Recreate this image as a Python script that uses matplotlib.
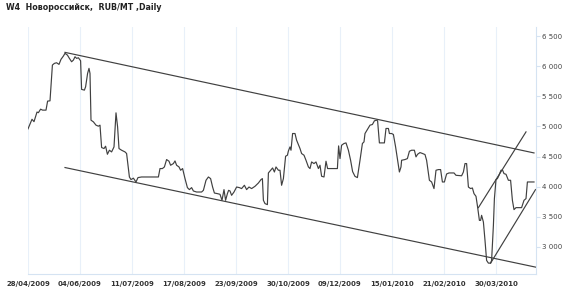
import numpy as np
import matplotlib
matplotlib.use("Agg")
import matplotlib.pyplot as plt
from matplotlib.ticker import FuncFormatter

# =============================================================================
# DATA: W4 Novorossiysk price, trading day index (0 = 28/04/2009)
# =============================================================================
day_idx = [0, 2, 3, 4.5, 5.2, 6.3, 7.3, 9, 9.8, 11, 12.2, 13.2, 14.3, 15.5, 16.5, 17.7,
           18.5, 19.7, 20.7, 21.8, 22.7, 23.5, 24.3, 25.2, 26.3, 26.8, 28.2, 28.8,
           29.8, 30.5, 31, 31.5, 32.7, 34, 35.2, 36, 36.8, 38, 38.8, 39.7, 40.7,
           41.8, 43, 44, 44.8, 45.5, 46.8, 48.5, 49.3, 50.7, 51.5, 52.7, 54, 55,
           56.8, 65.2, 66, 67.2, 68.2, 69.3, 70.5, 71.3, 72.7, 73.5, 74.3, 75.5,
           76.3, 77.3, 78.5, 79.7, 80.7, 81.8, 82.7, 84.3, 86.8, 87.7, 89, 90.2,
           91.3, 92.3, 93.2, 94.7, 96, 97, 98, 98.8, 99.7, 100.3, 101, 101.8, 103,
           104.3, 105.7, 106.8, 108.2, 109.3, 110.5, 111.8, 113.5, 115.2, 116.5,
           117.2, 117.7, 118.5, 119.7, 120.2, 121.3, 122.3, 123.2, 124, 125.2, 126,
           126.8, 127.7, 128.8, 129.7, 130.2, 131, 131.5, 132.3, 133.5, 134.3,
           135.2, 136, 136.8, 138, 139, 140.2, 141, 141.8, 143, 144, 145.2, 146,
           146.8, 148, 149, 149.8, 154.7, 155.3, 156, 156.8, 158, 159, 160.2,
           161.3, 162.3, 163.5, 164.7, 166, 167.2, 168, 168.5, 169.7, 171, 172.2,
           173.2, 174.3, 174.8, 175.7, 178.2, 179, 180.2, 180.7, 181.8, 182.7,
           183.8, 184.7, 185.7, 186.5, 186.8, 188.5, 189.7, 190.7, 191.8, 193.2,
           194, 194.8, 196, 197.3, 198.5, 199.3, 200.7, 201.8, 203, 204, 205.2,
           206.3, 207.2, 208.2, 209.3, 210.5, 213, 214, 216.8, 217.7, 218.5,
           219.3, 220.2, 221.3, 222.2, 223, 224, 224.8, 225.7, 226.3, 226.8, 227.7,
           228.5, 229.3, 230.2, 231.3, 231.8, 232.7, 233.2, 234, 234.7, 235.5,
           236.5, 237.3, 238, 239, 240.2, 241.3, 242.2, 243, 244, 246.8, 248, 249,
           249.7, 253]
price = [4960, 5120, 5080, 5240, 5230, 5288, 5272, 5272, 5422, 5427, 6022, 6050, 6060,
         6033, 6117, 6172, 6217, 6188, 6133, 6077, 6105, 6160, 6133, 6143, 6093, 5617,
         5605, 5660, 5883, 5967, 5883, 5105, 5077, 5022, 5005, 5022, 4650, 4633, 4672,
         4538, 4605, 4577, 4660, 5227, 4993, 4633, 4605, 4577, 4550, 4160, 4117, 4140,
         4077, 4150, 4160, 4160, 4300, 4300, 4327, 4450, 4422, 4355, 4383, 4427, 4355,
         4327, 4272, 4300, 4133, 3983, 3950, 3983, 3927, 3910, 3910, 3938, 4105, 4160,
         4133, 3993, 3893, 3883, 3872, 3772, 3950, 3772, 3883, 3938, 3927, 3855, 3910,
         3993, 3983, 3967, 4022, 3950, 3993, 3967, 4005, 4060, 4117, 4133, 3772, 3717,
         3700, 4227, 4272, 4310, 4243, 4327, 4272, 4272, 4022, 4133, 4505, 4522, 4593,
         4660, 4605, 4883, 4883, 4772, 4700, 4633, 4550, 4522, 4438, 4327, 4300, 4410,
         4383, 4410, 4300, 4355, 4172, 4160, 4422, 4300, 4300, 4677, 4466, 4688, 4717,
         4727, 4605, 4438, 4250, 4170, 4150, 4438, 4717, 4744, 4883, 4950, 5022, 5033,
         5094, 5105, 5094, 4727, 4727, 4967, 4967, 4883, 4883, 4867, 4660, 4466, 4243,
         4327, 4438, 4450, 4466, 4588, 4605, 4605, 4494, 4538, 4566, 4550, 4533, 4438,
         4105, 4077, 3967, 4272, 4283, 4283, 4077, 4077, 4210, 4227, 4227, 4188, 4180,
         4243, 4383, 4383, 3993, 3967, 3977, 3883, 3838, 3660, 3438, 3438, 3522, 3410,
         3105, 2772, 2727, 2727, 2772, 3355, 3800, 4117, 4133, 4188, 4272, 4272, 4216,
         4205, 4105, 4105, 3772, 3617, 3650, 3650, 3772, 3800, 4077, 4077]

# trend lines drawn on the chart: (start idx, start value, end idx, end value)
channel_top = (18.5, 6233, 253, 4560)
channel_bottom = (18.5, 4317, 253.85, 2660)
rise_upper = (225.2, 3650, 249, 4910)
rise_lower = (231.3, 2727, 253.75, 3950)

tick_idx = [0, 26, 52, 78, 104, 130, 156, 182, 208, 234]
tick_labels = ["28/04/2009", "04/06/2009", "11/07/2009", "17/08/2009", "23/09/2009",
               "30/10/2009", "09/12/2009", "15/01/2010", "21/02/2010", "30/03/2010"]
y_ticks = [3000, 3500, 4000, 4500, 5000, 5500, 6000, 6500]

# =============================================================================
# PLOT
# =============================================================================
grid_col = "#e8f0f9"
line_col = "#404040"

fig = plt.figure(figsize=(5.7, 2.93), dpi=100)
ax = fig.add_axes([28 / 570, 19 / 293, 508 / 570, 247 / 293])

ax.plot(day_idx, price, color=line_col, linewidth=0.85)
for t in [channel_top, channel_bottom, rise_upper, rise_lower]:
    ax.plot([t[0], t[2]], [t[1], t[3]], color=line_col, linewidth=0.85)

ax.set_xlim(0, 254)
ax.set_ylim(2546, 6655)

ax.set_xticks(tick_idx)
ax.set_xticklabels(tick_labels, fontsize=5, fontweight="bold", color="#333333")
ax.tick_params(axis="x", length=0, pad=5)
ax.grid(True, axis="x", color=grid_col, linewidth=0.8)

ax.yaxis.tick_right()
ax.set_yticks(y_ticks)
ax.yaxis.set_major_formatter(FuncFormatter(lambda v, p: f"{int(v):,}".replace(",", " ")))
ax.tick_params(axis="y", length=3, width=0.8, color="#d5e3f2", labelsize=5,
               labelcolor="#444444", pad=1.5)

for side in ["top", "left"]:
    ax.spines[side].set_visible(False)
for side in ["bottom", "right"]:
    ax.spines[side].set_color("#d5e3f2")
    ax.spines[side].set_linewidth(0.8)

fig.text(6 / 570, 1 - 8 / 293, "W4  Новороссийск,  RUB/MT ,Daily", fontsize=5.7,
         fontweight="bold", color="#222222", va="center", ha="left")

fig.savefig("out.png", dpi=100)
